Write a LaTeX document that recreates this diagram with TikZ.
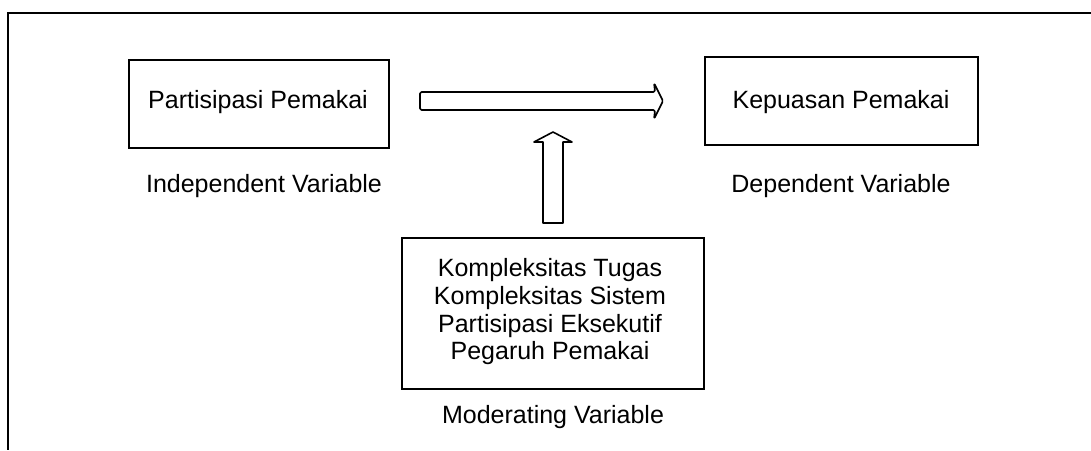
\documentclass[tikz,border=0pt]{standalone}
\usepackage{fontspec}
\setmainfont{Liberation Sans}
\begin{document}
\begin{tikzpicture}[x=1pt,y=-1pt,
  box/.style={draw=black,line width=1.6pt,fill=white,inner sep=0pt},
  txt/.style={anchor=base,inner sep=0pt,font=\fontsize{25}{28}\selectfont},
  blockarrow/.style={draw=black,line width=1.6pt,line join=round,fill=white}]
\useasboundingbox[fill=white] (0,0) rectangle (1091,450);
% frame
\draw[line width=2pt] (1091,13) -- (8,13) -- (8,450);
% boxes
\node[box,minimum width=260pt,minimum height=88pt] (pp) at (259,104) {};
\node[box,minimum width=273pt,minimum height=88pt] (kp) at (841.5,101) {};
\node[box,minimum width=302pt,minimum height=151pt] (mv) at (553,313.5) {};
% texts
\node[txt] (t1) at (258,108) {Partisipasi Pemakai};
\node[txt] (t2) at (264,192) {Independent Variable};
\node[txt] (t3) at (841,108) {Kepuasan Pemakai};
\node[txt] (t4) at (841,192) {Dependent Variable};
\node[txt] (m1) at (550,276) {Kompleksitas Tugas};
\node[txt] (m2) at (550,304) {Kompleksitas Sistem};
\node[txt] (m3) at (550,332) {Partisipasi Eksekutif};
\node[txt] (m4) at (550,359) {Pegaruh Pemakai};
\node[txt] (m5) at (553,423) {Moderating Variable};
% horizontal block arrow (from Partisipasi Pemakai towards Kepuasan Pemakai)
\coordinate (ht) at (663,101);
\draw[blockarrow,rounded corners=1.5pt] (420,92) -- (655,92) -- (654,83) -- (ht) -- (654,119) -- (655,110) -- (420,110) -- cycle;
% vertical block arrow (from Moderating Variable box upwards)
\coordinate (vt) at (553,132);
\draw[blockarrow] (543,223) -- (543,142) -- (534,142) -- (vt) -- (572,142) -- (563,142) -- (563,223) -- cycle;
\end{tikzpicture}
\end{document}
